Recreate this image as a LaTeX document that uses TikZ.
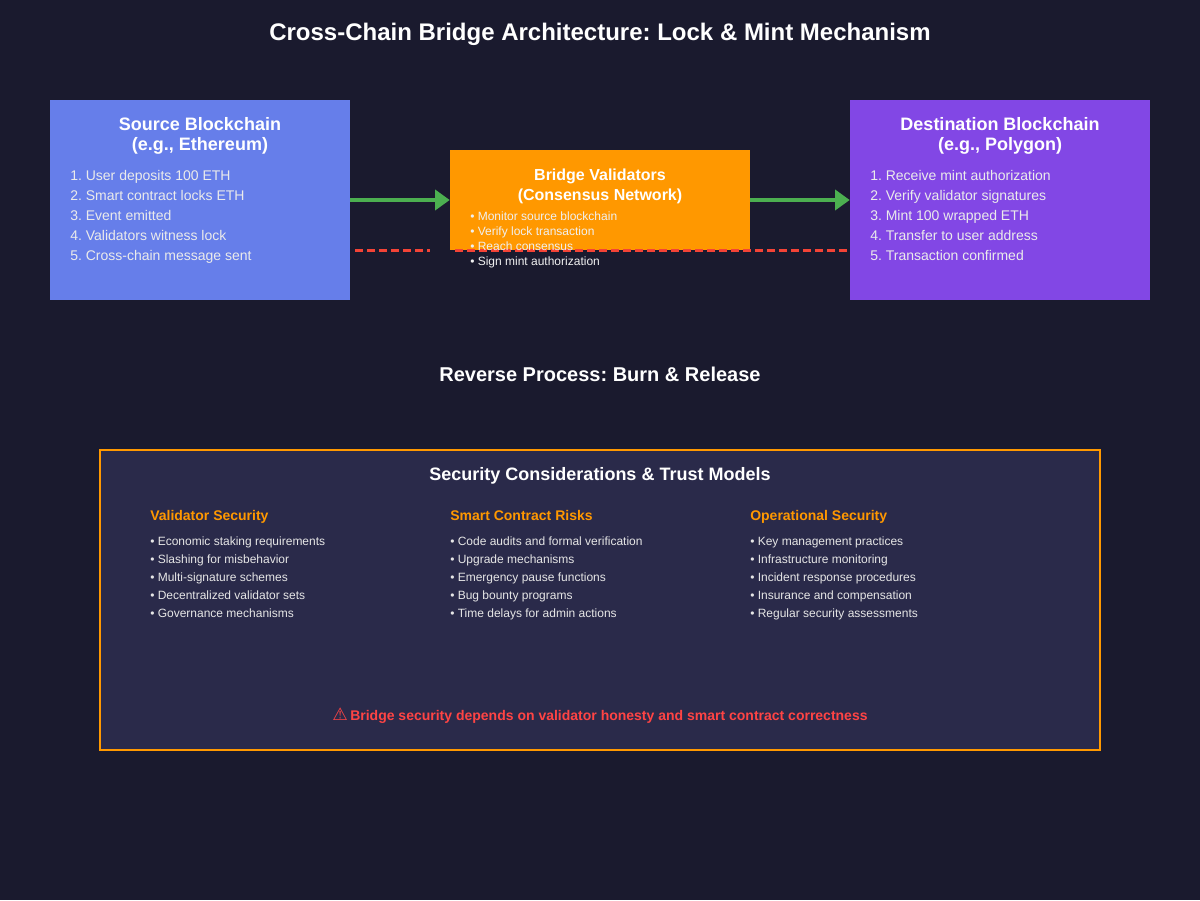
\documentclass[tikz,border=0pt]{standalone}
\usepackage{fontspec}
\setmainfont{Liberation Sans}
\newfontfamily\symfont{DejaVu Sans}
\usepackage{xcolor}
\usetikzlibrary{arrows.meta,positioning}
\frenchspacing
\definecolor{bgdark}{HTML}{1A1A2E}
\definecolor{srcblue}{HTML}{667EEA}
\definecolor{dstpurple}{HTML}{8247E5}
\definecolor{valorange}{HTML}{FF9800}
\definecolor{flowgreen}{HTML}{4CAF50}
\definecolor{revred}{HTML}{F44336}
\definecolor{warnred}{HTML}{FF4444}
\definecolor{secfill}{HTML}{2A2A4A}
\definecolor{itemgray}{HTML}{E6E6E6}
\tikzset{%
	chainbox/.style  = {rectangle, inner sep=0pt, minimum width=225pt, minimum height=150pt},
	validbox/.style  = {rectangle, inner sep=0pt, fill=valorange, minimum width=225pt, minimum height=75pt},
	boxtitle/.style  = {text=white, font=\fontsize{13.5}{15}\selectfont\bfseries, align=center},
	steptext/.style  = {text=white!92!black, font=\fontsize{10.5}{15}\selectfont, align=left, anchor=north west, inner sep=0pt},
	colhead/.style   = {text=valorange, font=\fontsize{10.5}{12}\selectfont\bfseries, anchor=base west, inner sep=0pt},
	colitems/.style  = {text=itemgray, font=\fontsize{9}{13.5}\selectfont, align=left, anchor=north west, inner sep=0pt},
	arrow/.style     = {line width=3pt, flowgreen, -{Triangle[width=15pt,length=11pt]}},
	revline/.style   = {line width=2.25pt, revred, dash pattern=on 6pt off 3pt},
}

\begin{document}
\begin{tikzpicture}[x=0.75pt,y=-0.75pt]
	\fill[bgdark] (0,0) rectangle (1200,900);
	\useasboundingbox (0,0) rectangle (1200,900);
	\node[text=white, font=\fontsize{18}{22}\selectfont\bfseries] (title) at (600,34) {Cross-Chain Bridge Architecture: Lock \& Mint Mechanism};
	% source chain
	\node[chainbox, fill=srcblue] (src) at (200,200) {};
	\node[boxtitle] (srctitle) at (200,136) {Source Blockchain\\(e.g., Ethereum)};
	\node[steptext] (srcsteps) at (70,170) {1. User deposits 100 ETH\\2. Smart contract locks ETH\\3. Event emitted\\4. Validators witness lock\\5. Cross-chain message sent};
	% destination chain
	\node[chainbox, fill=dstpurple] (dst) at (1000,200) {};
	\node[boxtitle] (dsttitle) at (1000,136) {Destination Blockchain\\(e.g., Polygon)};
	\node[steptext] (dststeps) at (870,170) {1. Receive mint authorization\\2. Verify validator signatures\\3. Mint 100 wrapped ETH\\4. Transfer to user address\\5. Transaction confirmed};
	% validators
	\node[validbox] (val) at (600,200) {};
	\node[boxtitle, font=\fontsize{12}{15}\selectfont\bfseries] (valtitle) at (600,186) {Bridge Validators\\(Consensus Network)};
	\draw[arrow] (src) -- (val);
	\draw[arrow] (val) -- (dst);
	\coordinate (revA) at (355,250);
	\coordinate (revB) at (430,250);
	\coordinate (revC) at (455,250);
	\coordinate (revD) at (850,250);
	\draw[revline] (revA) -- (revB);
	\draw[revline] (revC) -- (revD);
	\node[colitems, text=white!94!black, font=\fontsize{9}{11.25}\selectfont] (valsteps) at (470,212) {• Monitor source blockchain\\• Verify lock transaction\\• Reach consensus\\• Sign mint authorization};
	\node[text=white, font=\fontsize{15}{18}\selectfont\bfseries] (revtitle) at (600,374) {Reverse Process: Burn \& Release};
	% security considerations
	\draw[valorange, line width=1.5pt, fill=secfill] (100,450) rectangle (1100,750);
	\node[text=white, font=\fontsize{13.5}{16}\selectfont\bfseries] (sectitle) at (600,476) {Security Considerations \& Trust Models};
	\node[colhead] (vshead) at (150,520) {Validator Security};
	\node[colitems] (vsitems) at (150,537) {• Economic staking requirements\\• Slashing for misbehavior\\• Multi-signature schemes\\• Decentralized validator sets\\• Governance mechanisms};
	\node[colhead] (schead) at (450,520) {Smart Contract Risks};
	\node[colitems] (scitems) at (450,537) {• Code audits and formal verification\\• Upgrade mechanisms\\• Emergency pause functions\\• Bug bounty programs\\• Time delays for admin actions};
	\node[colhead] (ophead) at (750,520) {Operational Security};
	\node[colitems] (opitems) at (750,537) {• Key management practices\\• Infrastructure monitoring\\• Incident response procedures\\• Insurance and compensation\\• Regular security assessments};
	\node[text=warnred, font=\fontsize{10.5}{12}\selectfont\bfseries] (warn) at (600,716) {{\symfont\fontsize{13}{13}\selectfont ⚠}\,Bridge security depends on validator honesty and smart contract correctness};
\end{tikzpicture}
\end{document}
